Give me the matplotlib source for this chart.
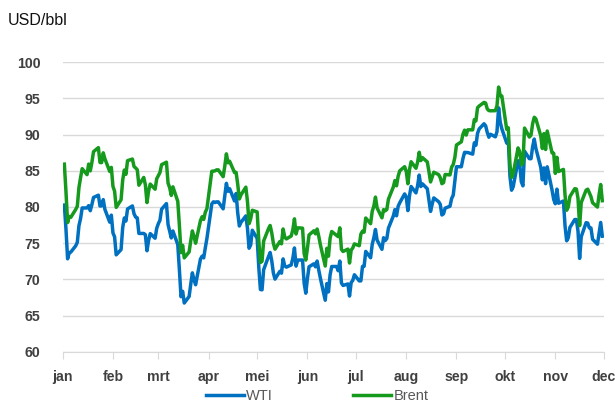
import matplotlib
matplotlib.use("Agg")
import matplotlib.pyplot as plt
import pandas as pd

# daily closes 2023, per month (business days, holidays carry previous value)
wti_jan = [80.26, 76.93, 72.84, 73.67, 73.77, 74.63, 75.12, 77.41, 78.39, 79.86, 79.86,
           80.18, 79.48, 80.33, 81.31, 81.62, 80.13, 80.15, 81.01, 79.68, 77.90, 78.87]
wti_feb = [76.41, 75.88, 73.39, 74.11, 77.14, 78.47, 78.06, 79.72, 80.14, 79.06,
           78.59, 78.49, 76.34, 76.34, 76.16, 73.95, 75.39, 76.32, 75.68, 77.05]
wti_mar = [77.69, 78.16, 79.68, 80.46, 77.58, 76.66, 75.72, 76.68, 74.80, 71.33, 67.61, 68.35,
           66.74, 67.64, 69.33, 70.90, 69.96, 69.26, 72.81, 73.20, 72.97, 74.37, 75.67]
wti_apr = [80.42, 80.71, 80.61, 80.70, 80.70, 79.74, 81.53, 83.26, 82.16, 82.52,
           80.83, 81.86, 79.16, 77.37, 77.87, 78.76, 77.07, 74.30, 74.76, 76.78]
wti_may = [75.66, 71.66, 68.60, 68.56, 71.34, 73.16, 73.71, 72.56, 70.87, 70.04, 71.11, 70.86,
           72.83, 71.86, 71.69, 71.99, 72.91, 74.34, 71.83, 72.67, 72.67, 69.46, 68.09]
wti_jun = [70.10, 71.74, 72.15, 71.74, 72.53, 71.29, 70.17, 67.12, 69.42, 68.27, 70.62,
           71.78, 71.78, 71.19, 72.53, 69.51, 69.16, 69.37, 67.70, 69.56, 69.86, 70.64]
wti_jul = [69.79, 69.79, 71.79, 71.80, 73.86, 72.99, 74.83, 75.75, 76.89, 75.42, 74.15,
           75.75, 75.35, 75.63, 77.07, 78.74, 79.63, 78.78, 80.09, 80.58, 81.80]
wti_aug = [81.37, 79.49, 81.55, 82.82, 81.94, 82.92, 84.40, 82.82, 83.19, 82.51, 80.99, 79.38,
           80.39, 81.25, 80.72, 80.35, 78.89, 79.05, 79.83, 80.10, 81.16, 81.63, 83.63]
wti_sep = [85.55, 85.55, 86.69, 87.54, 87.51, 87.51, 87.29, 88.84, 88.52, 90.16, 90.77,
           91.48, 91.20, 90.28, 89.63, 90.03, 89.68, 90.39, 93.68, 91.71, 90.79]
wti_oct = [88.82, 89.23, 84.22, 82.31, 82.79, 86.38, 85.97, 83.49, 82.91, 87.69, 86.66,
           86.66, 88.32, 89.37, 88.08, 85.49, 83.74, 85.39, 83.21, 85.54, 82.31, 81.02]
wti_nov = [80.44, 82.46, 80.51, 80.82, 77.37, 75.33, 75.74, 77.17, 78.26, 78.26, 76.66,
           72.90, 75.89, 77.83, 77.77, 77.10, 77.10, 75.54, 74.86, 76.41, 77.86, 75.96]

brent_jan = [85.91, 82.10, 77.84, 78.69, 78.57, 79.65, 80.10, 82.67, 84.03, 85.28, 84.46,
             85.92, 84.98, 86.16, 87.63, 88.19, 86.13, 86.12, 87.47, 86.66, 84.90, 85.46]
brent_feb = [82.84, 82.17, 79.94, 80.99, 83.69, 85.09, 84.50, 86.39, 86.61, 85.58,
             85.38, 85.14, 83.00, 84.07, 83.05, 80.60, 82.21, 83.16, 82.45, 83.89]
brent_mar = [84.31, 84.75, 85.83, 86.18, 83.29, 82.66, 81.59, 82.78, 80.77, 77.45, 73.69, 74.70,
             72.97, 73.79, 75.32, 76.69, 75.91, 74.99, 78.12, 78.65, 78.28, 79.27, 79.77]
brent_apr = [84.93, 84.94, 84.99, 85.12, 85.12, 84.18, 85.61, 87.33, 86.09, 86.31,
             84.76, 84.77, 83.12, 81.10, 81.66, 82.73, 80.77, 77.69, 78.37, 79.54]
brent_may = [79.31, 75.32, 72.33, 72.50, 75.30, 77.01, 77.44, 76.41, 74.98, 74.17, 75.23, 74.91,
             76.96, 75.86, 75.58, 75.99, 76.84, 78.36, 76.26, 77.12, 77.07, 73.54, 72.66]
brent_jun = [74.28, 76.13, 76.71, 76.29, 76.95, 75.96, 74.79, 71.84, 74.29, 73.20, 75.67,
             76.61, 76.09, 75.90, 77.12, 74.14, 73.85, 74.18, 72.26, 74.03, 74.34, 74.90]
brent_jul = [74.65, 76.25, 76.65, 76.52, 78.47, 77.69, 79.40, 80.11, 81.36, 79.87, 78.50,
             79.63, 79.46, 79.64, 81.07, 82.74, 83.64, 82.92, 84.24, 84.99, 85.56]
brent_aug = [84.91, 83.20, 85.14, 86.24, 85.34, 86.17, 87.55, 86.40, 86.81, 86.21, 84.89, 83.45,
             84.12, 84.80, 84.46, 84.03, 83.21, 83.36, 84.48, 84.42, 85.49, 85.86, 86.83]
brent_sep = [88.55, 88.99, 90.04, 90.60, 89.92, 90.65, 90.64, 92.06, 91.88, 93.70, 93.93,
             94.43, 94.34, 93.53, 93.30, 93.27, 93.29, 93.96, 96.55, 95.38, 95.31]
brent_oct = [90.71, 90.92, 85.81, 84.07, 84.58, 88.15, 87.65, 85.82, 86.00, 90.89, 89.65,
             89.90, 91.50, 92.38, 92.16, 89.83, 88.07, 90.13, 87.93, 90.48, 87.45, 87.41]
brent_nov = [84.63, 86.85, 84.89, 85.18, 81.61, 79.54, 80.01, 81.43, 82.52, 82.47, 81.18,
             77.42, 80.61, 82.32, 82.45, 81.96, 81.42, 80.58, 79.98, 81.68, 83.10, 80.86]

month_labels = ['jan', 'feb', 'mrt', 'apr', 'mei', 'jun', 'jul', 'aug', 'sep', 'okt', 'nov', 'dec']

wti = (wti_jan + wti_feb + wti_mar + wti_apr + wti_may + wti_jun + wti_jul
       + wti_aug + wti_sep + wti_oct + wti_nov)
brent = (brent_jan + brent_feb + brent_mar + brent_apr + brent_may + brent_jun + brent_jul
         + brent_aug + brent_sep + brent_oct + brent_nov)
dates = pd.bdate_range('2023-01-02', '2023-11-30')
assert len(dates) == len(wti) == len(brent), (len(dates), len(wti), len(brent))

fig = plt.figure(figsize=(6.15, 4.03), dpi=100)
ax = fig.add_axes([0.102, 0.127, 0.880, 0.719])

ax.plot(dates, wti, color='#0070c0', lw=2.5, label='WTI', solid_joinstyle='round')
ax.plot(dates, brent, color='#169a1e', lw=2.5, label='Brent', solid_joinstyle='round')

ax.set_ylim(60, 100)
ax.set_yticks(range(60, 101, 5))
ax.set_xlim(pd.Timestamp('2023-01-01'), pd.Timestamp('2023-12-01'))
month_starts = pd.date_range('2023-01-01', '2023-12-01', freq='MS')
ax.set_xticks(month_starts)
ax.set_xticklabels(month_labels)

ax.grid(axis='y', color='#d9d9d9', lw=1)
ax.set_axisbelow(True)
for s in ['left', 'right', 'top']:
    ax.spines[s].set_visible(False)
ax.spines['bottom'].set_color('#d9d9d9')
ax.tick_params(axis='y', length=0, pad=16)
ax.tick_params(axis='x', length=5, color='#d9d9d9', pad=8)
for lab in ax.get_yticklabels() + ax.get_xticklabels():
    lab.set_fontfamily(['Liberation Sans', 'DejaVu Sans'])
    lab.set_fontweight('bold')
    lab.set_fontsize(10.2)
    lab.set_color('#404040')

fig.text(0.013, 0.95, 'USD/bbl', fontsize=11.5, color='#111111',
         family=['Liberation Sans', 'DejaVu Sans'], va='center')

leg = fig.legend(loc='lower center', bbox_to_anchor=(0.516, -0.032), ncol=2, frameon=False,
                 handlelength=2.6, handletextpad=0.15, columnspacing=5.5,
                 prop={'family': ['Liberation Sans', 'DejaVu Sans'], 'size': 10.5})
for t in leg.get_texts():
    t.set_color('#595959')

fig.savefig('out.png', dpi=100)
